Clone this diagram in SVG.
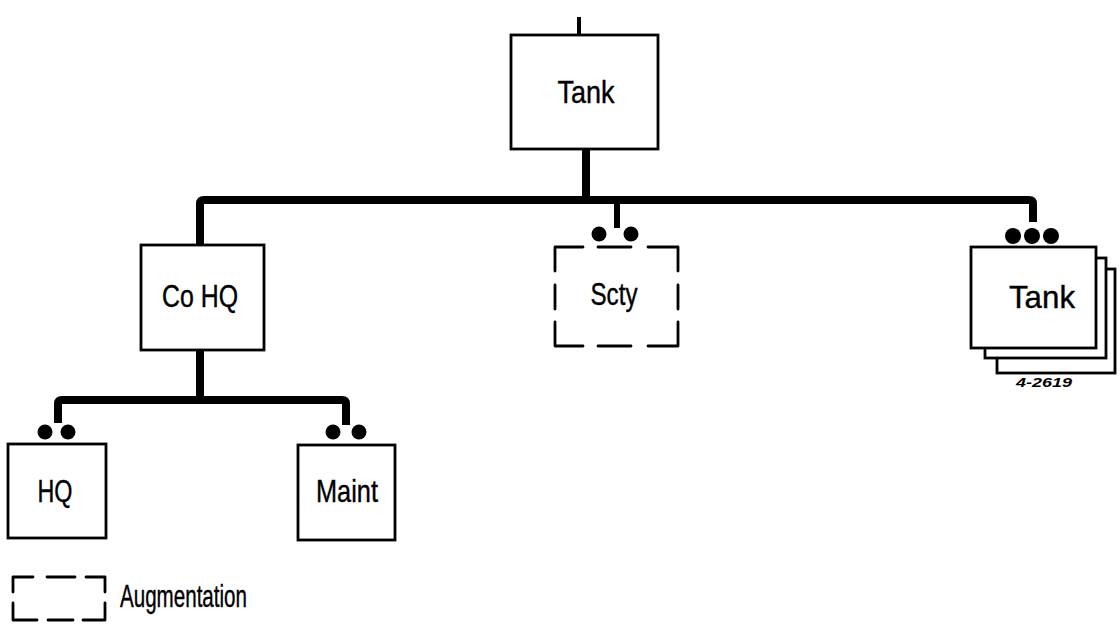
<svg xmlns="http://www.w3.org/2000/svg" width="1120" height="635" viewBox="0 0 1120 635">
<style>
.box{fill:#fff;stroke:#000;stroke-width:2.8}
.dash{fill:none;stroke:#000;stroke-width:2.8;stroke-linecap:round;stroke-linejoin:round}
.bus{fill:none;stroke:#000;stroke-width:8;stroke-linejoin:round}
.lbl{font-family:"Liberation Sans Narrow","Liberation Sans",sans-serif;font-size:32px;fill:#000;stroke:#000;stroke-width:0.4}
.dot{fill:#000}
</style>
<rect width="1120" height="635" fill="#fff"/>
<g id="connectors">
<line x1="579" y1="17" x2="579" y2="35" stroke="#000" stroke-width="4"/>
<line x1="586" y1="149" x2="586" y2="200" class="bus"/>
<path class="bus" d="M200,245 V204 Q200,200 204,200 H1029 Q1033,200 1033,204 V222"/>
<line x1="617" y1="200" x2="617" y2="228" stroke="#000" stroke-width="6"/>
<line x1="200" y1="350" x2="200" y2="400" class="bus"/>
<path class="bus" d="M58,423 V404 Q58,400 62,400 H342 Q346,400 346,404 V425"/>
</g>
<g id="tank-top">
<rect class="box" x="511" y="35" width="147" height="114"/>
<text class="lbl" x="586" y="103" text-anchor="middle" textLength="57" lengthAdjust="spacingAndGlyphs">Tank</text>
</g>
<g id="cohq">
<rect class="box" x="141" y="245" width="123" height="105"/>
<text class="lbl" x="200" y="307" text-anchor="middle" textLength="76" lengthAdjust="spacingAndGlyphs">Co HQ</text>
</g>
<g id="scty">
<circle class="dot" cx="599" cy="234" r="7.5"/>
<circle class="dot" cx="631" cy="234" r="7.5"/>
<path class="dash" d="M555,271 V247 H583 M598,247 H631 M648,247 H678 V271 M678,285 V309 M678,322 V346 H648 M631,346 H598 M583,346 H555 V322 M555,309 V285"/>
<text class="lbl" x="614" y="305" text-anchor="middle" textLength="47" lengthAdjust="spacingAndGlyphs">Scty</text>
</g>
<g id="tank-platoons">
<circle class="dot" cx="1013" cy="236" r="8"/>
<circle class="dot" cx="1032" cy="236" r="8"/>
<circle class="dot" cx="1051" cy="236" r="8"/>
<rect class="box" x="997" y="269" width="118" height="104"/>
<rect class="box" x="985" y="258" width="121" height="100"/>
<rect class="box" x="971" y="247" width="125" height="101"/>
<text class="lbl" x="1042" y="308" text-anchor="middle" textLength="66" lengthAdjust="spacingAndGlyphs">Tank</text>
<text x="1044" y="387" text-anchor="middle" font-family="'Liberation Sans',sans-serif" font-size="12" font-style="italic" font-weight="bold" textLength="56" lengthAdjust="spacingAndGlyphs">4-2619</text>
</g>
<g id="hq">
<circle class="dot" cx="45" cy="432" r="7.5"/>
<circle class="dot" cx="68" cy="432" r="7.5"/>
<rect class="box" x="8" y="444" width="98" height="94"/>
<text class="lbl" x="55" y="502" text-anchor="middle" textLength="35" lengthAdjust="spacingAndGlyphs">HQ</text>
</g>
<g id="maint">
<circle class="dot" cx="333" cy="432" r="7.5"/>
<circle class="dot" cx="359" cy="432" r="7.5"/>
<rect class="box" x="298" y="445" width="97" height="95"/>
<text class="lbl" x="347" y="502" text-anchor="middle" textLength="62" lengthAdjust="spacingAndGlyphs">Maint</text>
</g>
<g id="legend">
<path class="dash" d="M13,592 V577 H33 M47,577 H75 M86,577 H105 V592 M105,603 V620 H83 M73,620 H48 M37,620 H13 V603"/>
<text class="lbl" x="120" y="607" font-size="28" textLength="127" lengthAdjust="spacingAndGlyphs">Augmentation</text>
</g>
</svg>
